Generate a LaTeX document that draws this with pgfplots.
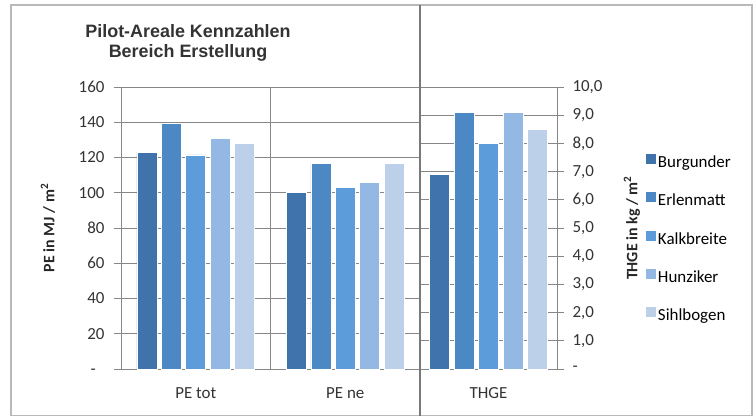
\documentclass[border=0pt]{standalone}
\usepackage{pgfplots}
\pgfplotsset{compat=1.18}
\usepackage{pgfplotstable}
\usepackage{fontspec}
\setmainfont{Carlito}
\newfontfamily\arialfont{Liberation Sans}

\definecolor{cBurg}{RGB}{64,114,172}
\definecolor{cErl}{RGB}{76,136,196}
\definecolor{cKalk}{RGB}{92,156,218}
\definecolor{cHunz}{RGB}{148,184,228}
\definecolor{cSihl}{RGB}{188,208,234}
\definecolor{axgray}{RGB}{134,134,134}

% PE values (MJ/m2), categories 0 = PE tot, 1 = PE ne
\pgfplotstableread{
x Burgunder Erlenmatt Kalkbreite Hunziker Sihlbogen
0 123 139.5 121.5 131 128
1 100 116.5 103 106 116.5
}\petab
% THGE values (kg/m2)
\pgfplotstableread{
x Burgunder Erlenmatt Kalkbreite Hunziker Sihlbogen
0 6.9 9.1 8.0 9.1 8.5
}\thgetab

\pgfplotsset{
  common/.style={
    scale only axis, height=282bp,
    ybar=4.4bp, bar width=20bp,
    ymin=0,
    axis x line*=bottom,
    axis line style={axgray, line width=0.8bp},
    ymajorgrids, grid style={axgray, line width=0.7bp},
    tick align=outside, major tick length=7bp,
    tick style={axgray, line width=0.8bp},
    xtick style={draw=none},
    tick label style={font=\fontsize{17}{19}\selectfont, black!80},
    xticklabel style={yshift=-8bp},
    label style={font=\bfseries\fontsize{16}{18}\selectfont, black!85},
    /pgf/number format/assume math mode=true,
  },
  bars/.style={fill=#1, draw=white, line width=0.6bp},
}

\begin{document}
\begin{tikzpicture}[x=1bp,y=1bp]
\useasboundingbox (0,0) rectangle (755,417);
\draw[gray!55, line width=1.3bp] (11,1.5) rectangle (752,412);

\node[font=\arialfont\bfseries\fontsize{18}{19.5}\selectfont, align=center, black!80]
  at (188,374) {Pilot-Areale Kennzahlen\\Bereich Erstellung};

% left part: PE tot and PE ne
\begin{axis}[common,
  at={(121bp,48bp)}, anchor=south west, width=299bp,
  ymax=160, axis y line*=left,
  xmin=-0.5, xmax=1.5,
  xtick={0,1}, xticklabels={PE tot, PE ne},
  extra x ticks={-0.5,0.5}, extra x tick labels={},
  extra x tick style={xmajorgrids, major tick length=7bp,
     tick style={axgray, line width=0.8bp}},
  ytick={0,20,...,160},
  yticklabels={-\phantom{0},20,40,60,80,100,120,140,160},
  yticklabel style={xshift=-6bp},
  ylabel={PE in MJ / m\textsuperscript{2}},
  ylabel style={at={(axis description cs:-0.244,0.5)}, anchor=center},
]
\addplot[bars=cBurg] table[x=x,y=Burgunder] {\petab};
\addplot[bars=cErl] table[x=x,y=Erlenmatt] {\petab};
\addplot[bars=cKalk] table[x=x,y=Kalkbreite] {\petab};
\addplot[bars=cHunz] table[x=x,y=Hunziker] {\petab};
\addplot[bars=cSihl] table[x=x,y=Sihlbogen] {\petab};
\end{axis}

% right part: THGE
\begin{axis}[common,
  at={(420bp,48bp)}, anchor=south west, width=137bp,
  ymax=10, axis y line*=right,
  xmin=-0.5, xmax=0.5,
  xtick={0}, xticklabels={THGE},
  extra x ticks={0.5}, extra x tick labels={},
  extra x tick style={major tick length=6bp,
     tick style={axgray, line width=0.8bp}},
  ytick={0,1,...,10},
  yticklabels={-,{1,0},{2,0},{3,0},{4,0},{5,0},{6,0},{7,0},{8,0},{9,0},{10,0}},
  yticklabel style={xshift=5bp},
  ylabel={THGE in kg / m\textsuperscript{2}},
  ylabel style={at={(axis description cs:1.547,0.5)}, anchor=center, rotate=0},
  legend style={at={(axis description cs:1.64,0.767)}, anchor=north west,
    draw=none, fill=none, font=\fontsize{17}{19}\selectfont,
    row sep=18.8bp, inner sep=0pt,
    nodes={inner sep=1.5bp, text height=12bp, text depth=3.5bp}},
  legend cell align=left,
  legend image code/.code={\fill[#1] (0bp,-1bp) rectangle (11bp,10bp);},
]
\addplot[bars=cBurg] table[x=x,y=Burgunder] {\thgetab};
\addplot[bars=cErl] table[x=x,y=Erlenmatt] {\thgetab};
\addplot[bars=cKalk] table[x=x,y=Kalkbreite] {\thgetab};
\addplot[bars=cHunz] table[x=x,y=Hunziker] {\thgetab};
\addplot[bars=cSihl] table[x=x,y=Sihlbogen] {\thgetab};
\legend{Burgunder,Erlenmatt,Kalkbreite,Hunziker,Sihlbogen}
\end{axis}

\draw[axgray!90!black, line width=1.1bp] (420,1.5) -- (420,412);
\end{tikzpicture}
\end{document}
